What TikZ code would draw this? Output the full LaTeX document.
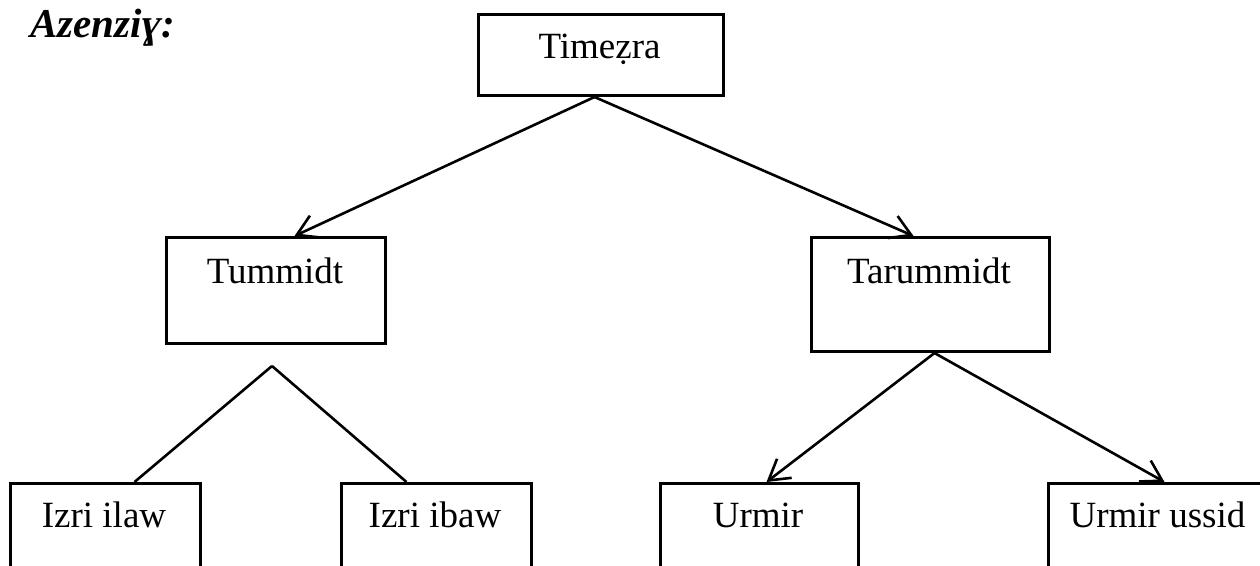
\documentclass[tikz,border=0pt]{standalone}
\usepackage{fontspec}
\setmainfont{Liberation Serif}
\usetikzlibrary{arrows.meta,calc}
\tikzset{
  box/.style={draw=black, line width=3pt, rectangle, inner sep=0pt, anchor=north west},
  lbl/.style={anchor=base, inner sep=0pt, font=\fontsize{37}{44}\selectfont},
  conn/.style={draw=black, line width=2.6pt},
  arr/.style={conn, -{Straight Barb[length=20pt,width=24pt,line width=2.6pt]}},
}
\begin{document}
\begin{tikzpicture}[x=1pt,y=-1pt]
\useasboundingbox (0,0) rectangle (1260,565);
\clip (0,0) rectangle (1260,565);
\fill[white] (0,0) rectangle (1260,565);
% title
\node[anchor=base west, inner sep=0pt, font=\fontsize{41}{48}\selectfont\bfseries\itshape] (title) at (30,37) {Azenziɣ:};
% boxes
\node[box, minimum width=245pt, minimum height=81pt] (tim) at (477,13) {};
\node[lbl] (timt) at (599.5,58) {Timeẓra};
\node[box, minimum width=219pt, minimum height=106pt] (tum) at (165,236) {};
\node[lbl] (tumt) at (275,283) {Tummidt};
\node[box, minimum width=238pt, minimum height=114pt] (tar) at (810,236) {};
\node[lbl] (tart) at (929,283) {Tarummidt};
\node[box, minimum width=190pt, minimum height=120pt] (ila) at (9,482) {};
\node[lbl] (ilat) at (104,527) {Izri ilaw};
\node[box, minimum width=190pt, minimum height=120pt] (iba) at (340,482) {};
\node[lbl] (ibat) at (435,527) {Izri ibaw};
\node[box, minimum width=198pt, minimum height=120pt] (urm) at (659,482) {};
\node[lbl] (urmt) at (758,527) {Urmir};
\node[box, minimum width=221pt, minimum height=120pt] (uss) at (1047,482) {};
\node[lbl] (usst) at (1157.5,527) {Urmir ussid};
% connectors
\coordinate (tumapex) at (272,366);
\draw[arr] ([xshift=-6.5pt]tim.south) -- ([xshift=18.5pt]tum.north);
\draw[arr] ([xshift=-6.5pt]tim.south) -- ([xshift=-17pt]tar.north);
\draw[conn] (tumapex) -- ([xshift=29pt]ila.north);
\draw[conn] (tumapex) -- ([xshift=-30pt]iba.north);
\draw[arr] ([xshift=4pt]tar.south) -- ([xshift=7pt]urm.north);
\draw[arr] ([xshift=4pt]tar.south) -- ([xshift=5.5pt]uss.north);
\end{tikzpicture}
\end{document}
